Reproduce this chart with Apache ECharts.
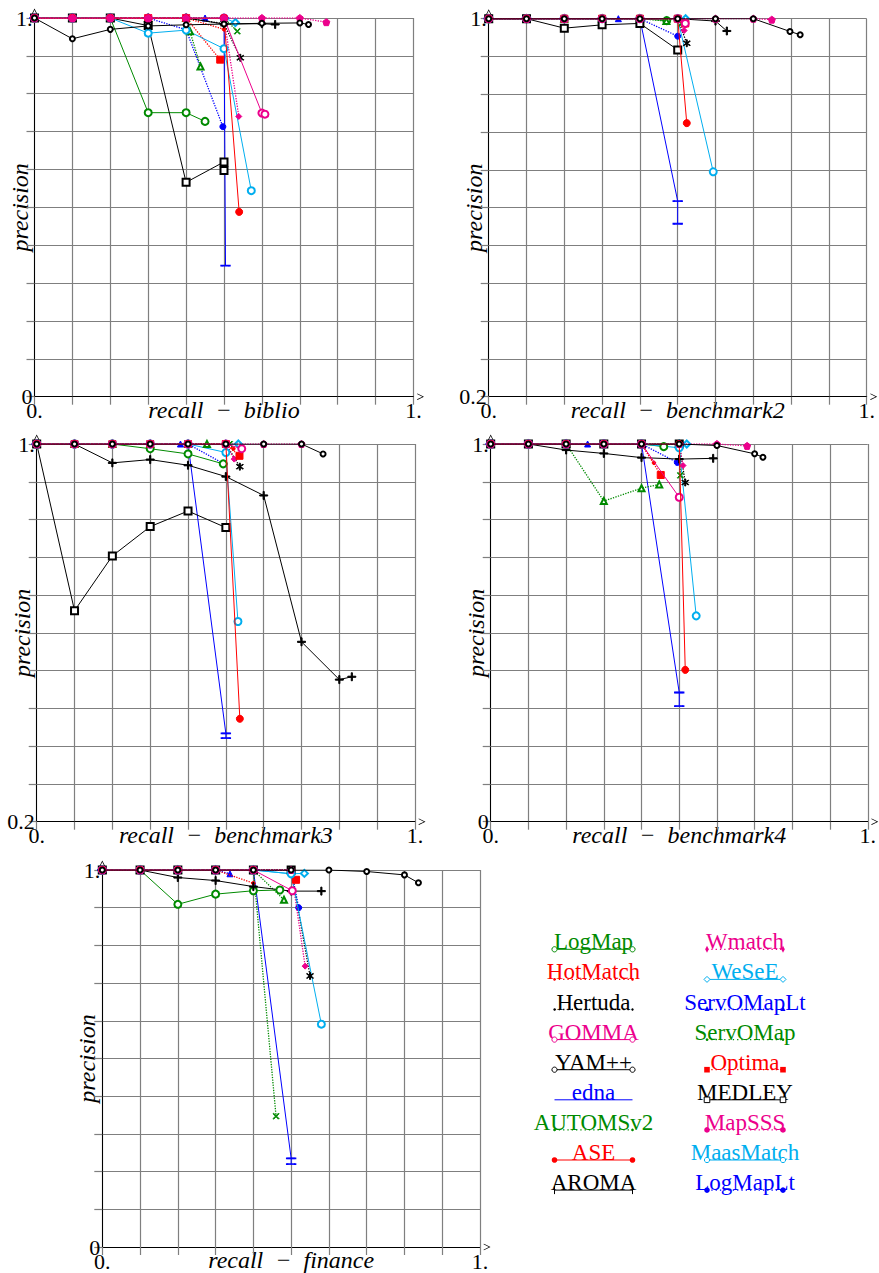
<!DOCTYPE html>
<html><head><meta charset="utf-8">
<script src="https://cdn.jsdelivr.net/npm/echarts@6/dist/echarts.min.js"></script>
<style>html,body{margin:0;padding:0;background:#fff}#c{width:879px;height:1273px}</style>
</head><body><div id="c"></div>
<script>
// ---------------- DATA ----------------
const systems = ['LogMap','HotMatch','Hertuda','GOMMA','YAM++','edna','AUTOMSv2','ASE','AROMA',
                 'Wmatch','WeSeE','ServOMapLt','ServOMap','Optima','MEDLEY','MapSSS','MaasMatch','LogMapLt'];
const panelNames = ['biblio','benchmark2','benchmark3','benchmark4','finance'];
const yMinValues = [0, 0.2, 0.2, 0, 0];
const xTickLabels = ['0.', '1.'];
const yTickLabels = [['0','1.'],['0.2','1.'],['0.2','1.'],['0','1.'],['0','1.']];

// [recall, precision] points, one list per system (same order as systems)
const biblioPoints = [
  [[0,1],[0.1,1],[0.2,1],[0.3,0.75],[0.4,0.75],[0.45,0.727]],                       // LogMap
  [[0,1],[0.1,1],[0.2,1],[0.3,1],[0.4,1],[0.5,0.97]],                                // HotMatch
  [[0,1],[0.1,1],[0.2,1],[0.3,1],[0.4,1],[0.5,0.985],[0.543,0.895]],                 // Hertuda
  [[0,1],[0.1,1],[0.2,1],[0.3,1],[0.4,1],[0.5,1],[0.6,0.749],[0.608,0.746]],         // GOMMA
  [[0,1],[0.1,0.945],[0.2,0.97],[0.3,0.979],[0.4,0.982],[0.5,0.984],[0.6,0.986],[0.7,0.987],[0.723,0.983]], // YAM++
  [[0,1],[0.1,1],[0.2,1],[0.3,1],[0.4,1],[0.5,1],[0.504,0.346]],                     // edna
  [[0,1],[0.1,1],[0.2,1],[0.3,1],[0.4,1],[0.41,0.965],[0.438,0.872]],                // AUTOMSv2
  [[0,1],[0.1,1],[0.2,1],[0.3,1],[0.4,1],[0.5,1],[0.54,0.488]],                      // ASE
  [[0,1],[0.1,1],[0.2,1],[0.3,1],[0.4,1],[0.5,0.984],[0.6,0.985],[0.635,0.983]],     // AROMA
  [[0,1],[0.1,1],[0.2,1],[0.3,1],[0.4,1],[0.5,1],[0.539,0.74]],                      // Wmatch
  [[0,1],[0.1,1],[0.2,1],[0.3,1],[0.4,1],[0.5,1],[0.53,0.988]],                      // WeSeE
  [[0,1],[0.1,1],[0.2,1],[0.3,1],[0.4,1],[0.45,1]],                                  // ServOMapLt
  [[0,1],[0.1,1],[0.2,1],[0.3,1],[0.4,1],[0.5,1],[0.535,0.965]],                     // ServOMap
  [[0,1],[0.1,1],[0.2,1],[0.3,1],[0.4,1],[0.49,0.89]],                               // Optima
  [[0,1],[0.1,1],[0.2,1],[0.3,0.98],[0.4,0.566],[0.5,0.62],[0.5,0.597]],             // MEDLEY
  [[0,1],[0.1,1],[0.2,1],[0.3,1],[0.4,1],[0.5,1],[0.6,1],[0.7,1],[0.77,0.989]],      // MapSSS
  [[0,1],[0.1,1],[0.2,1],[0.3,0.96],[0.4,0.968],[0.5,0.919],[0.572,0.544]],          // MaasMatch
  [[0,1],[0.1,1],[0.2,1],[0.3,1],[0.4,0.969],[0.497,0.713]]                          // LogMapLt
];
const benchmark2Points = [
  [[0,1],[0.1,1],[0.2,1],[0.3,1],[0.4,1],[0.471,0.996]],
  [[0,1],[0.1,1],[0.2,1],[0.3,1],[0.4,1],[0.5,1],[0.52,0.985]],
  [[0,1],[0.1,1],[0.2,1],[0.3,1],[0.4,1],[0.5,1],[0.524,0.948]],
  [[0,1],[0.1,1],[0.2,1],[0.3,1],[0.4,1],[0.5,1],[0.52,0.99]],
  [[0,1],[0.1,1],[0.2,1],[0.3,1],[0.4,1],[0.5,1],[0.6,1],[0.7,1],[0.797,0.973],[0.824,0.966]],
  [[0,1],[0.1,1],[0.2,1],[0.3,1],[0.4,1],[0.5,0.614],[0.5,0.566]],
  [[0,1],[0.1,1],[0.2,1],[0.3,1],[0.4,1],[0.47,0.995]],
  [[0,1],[0.1,1],[0.2,1],[0.3,1],[0.4,1],[0.5,1],[0.524,0.779]],
  [[0,1],[0.1,1],[0.2,1],[0.3,1],[0.4,1],[0.5,1],[0.6,0.995],[0.63,0.974]],
  [[0,1],[0.1,1],[0.2,1],[0.3,1],[0.4,1],[0.5,1],[0.517,0.975]],
  [[0,1],[0.1,1],[0.2,1],[0.3,1],[0.4,1],[0.5,1],[0.521,1]],
  [[0,1],[0.1,1],[0.2,1],[0.3,1],[0.343,1]],
  [[0,1],[0.1,1],[0.2,1],[0.3,1],[0.4,1],[0.5,1],[0.51,0.99]],
  [[0,1],[0.1,1],[0.2,1],[0.3,1],[0.4,1],[0.5,1],[0.52,0.99]],
  [[0,1],[0.1,1],[0.2,0.98],[0.3,0.987],[0.4,0.99],[0.5,0.934]],
  [[0,1],[0.1,1],[0.2,1],[0.3,1],[0.4,1],[0.5,1],[0.6,1],[0.7,1],[0.749,0.998]],
  [[0,1],[0.1,1],[0.2,1],[0.3,1],[0.4,1],[0.5,1],[0.594,0.676]],
  [[0,1],[0.1,1],[0.2,1],[0.3,1],[0.4,1],[0.5,0.963]]
];
const benchmark3Points = [
  [[0,1],[0.1,1],[0.2,1],[0.3,0.99],[0.4,0.979],[0.493,0.958]],
  [[0,1],[0.1,1],[0.2,1],[0.3,1],[0.4,1],[0.5,1],[0.52,0.99]],
  [[0,1],[0.1,1],[0.2,1],[0.3,1],[0.4,1],[0.5,1],[0.537,0.952]],
  [[0,1],[0.1,1],[0.2,1],[0.3,1],[0.4,1],[0.5,1],[0.542,0.99]],
  [[0,1],[0.1,1],[0.2,1],[0.3,1],[0.4,1],[0.5,1],[0.6,1],[0.7,1],[0.757,0.979]],
  [[0,1],[0.1,1],[0.2,1],[0.3,1],[0.4,1],[0.5,0.387],[0.5,0.377]],
  [[0,1],[0.1,1],[0.2,1],[0.3,1],[0.4,1],[0.45,1]],
  [[0,1],[0.1,1],[0.2,1],[0.3,1],[0.4,1],[0.5,1],[0.537,0.418]],
  [[0,1],[0.1,1],[0.2,0.96],[0.3,0.967],[0.4,0.955],[0.5,0.931],[0.6,0.891],[0.7,0.581],[0.8,0.501],[0.833,0.507]],
  [[0,1],[0.1,1],[0.2,1],[0.3,1],[0.4,1],[0.5,1],[0.522,0.968]],
  [[0,1],[0.1,1],[0.2,1],[0.3,1],[0.4,1],[0.5,1],[0.533,1]],
  [[0,1],[0.1,1],[0.2,1],[0.3,1],[0.38,1]],
  [[0,1],[0.1,1],[0.2,1],[0.3,1],[0.4,1],[0.5,1],[0.51,1]],
  [[0,1],[0.1,1],[0.2,1],[0.3,1],[0.4,1],[0.5,1],[0.536,0.975]],
  [[0,1],[0.1,0.647],[0.2,0.763],[0.3,0.825],[0.4,0.858],[0.5,0.823]],
  [[0,1],[0.1,1],[0.2,1],[0.3,1],[0.4,1],[0.5,1],[0.6,1],[0.7,1]],
  [[0,1],[0.1,1],[0.2,1],[0.3,1],[0.4,1],[0.5,0.982],[0.532,0.624]],
  [[0,1],[0.1,1],[0.2,1],[0.3,1],[0.4,1],[0.495,0.958]]
];
const benchmark4Points = [
  [[0,1],[0.1,1],[0.2,1],[0.3,1],[0.4,1],[0.459,0.993]],
  [[0,1],[0.1,1],[0.2,1],[0.3,1],[0.4,1],[0.433,0.95]],
  [[0,1],[0.1,1],[0.2,1],[0.3,1],[0.4,1],[0.5,1],[0.516,0.898]],
  [[0,1],[0.1,1],[0.2,1],[0.3,1],[0.4,1],[0.5,0.859]],
  [[0,1],[0.1,1],[0.2,1],[0.3,1],[0.4,1],[0.5,1],[0.6,0.996],[0.7,0.974],[0.722,0.965]],
  [[0,1],[0.1,1],[0.2,1],[0.3,1],[0.4,1],[0.5,0.342],[0.5,0.306]],
  [[0,1],[0.1,1],[0.2,1],[0.3,0.849],[0.4,0.883],[0.447,0.893]],
  [[0,1],[0.1,1],[0.2,1],[0.3,1],[0.4,1],[0.5,1],[0.516,0.402]],
  [[0,1],[0.1,1],[0.2,0.984],[0.3,0.975],[0.4,0.964],[0.5,0.96],[0.59,0.962]],
  [[0,1],[0.1,1],[0.2,1],[0.3,1],[0.4,1],[0.5,1],[0.51,0.943]],
  [[0,1],[0.1,1],[0.2,1],[0.3,1],[0.4,1],[0.5,1],[0.52,1]],
  [[0,1],[0.1,1],[0.2,1],[0.257,1]],
  [[0,1],[0.1,1],[0.2,1],[0.3,1],[0.4,1],[0.5,1],[0.503,0.917]],
  [[0,1],[0.1,1],[0.2,1],[0.3,1],[0.4,1],[0.451,0.918]],
  [[0,1],[0.1,1],[0.2,1],[0.3,1],[0.4,1],[0.5,1]],
  [[0,1],[0.1,1],[0.2,1],[0.3,1],[0.4,1],[0.5,1],[0.6,1],[0.68,0.995]],
  [[0,1],[0.1,1],[0.2,1],[0.3,1],[0.4,1],[0.5,0.99],[0.545,0.545]],
  [[0,1],[0.1,1],[0.2,1],[0.3,1],[0.4,1],[0.495,0.951]]
];
const financePoints = [
  [[0,1],[0.1,1],[0.2,0.909],[0.3,0.936],[0.4,0.945],[0.47,0.947]],
  [[0,1],[0.1,1],[0.2,1],[0.3,1],[0.4,0.965]],
  [[0,1],[0.1,1],[0.2,1],[0.3,1],[0.4,1],[0.5,1],[0.55,0.719]],
  [[0,1],[0.1,1],[0.2,1],[0.3,1],[0.4,1],[0.503,0.945]],
  [[0,1],[0.1,1],[0.2,1],[0.3,1],[0.4,1],[0.5,1],[0.6,1],[0.7,0.996],[0.8,0.987],[0.837,0.966]],
  [[0,1],[0.1,1],[0.2,1],[0.3,1],[0.4,1],[0.5,0.235],[0.5,0.22]],
  [[0,1],[0.1,1],[0.2,1],[0.3,1],[0.4,1],[0.481,0.921]],
  [[0,1],[0.1,1],[0.2,1],[0.3,1],[0.4,1]],
  [[0,1],[0.1,1],[0.2,0.98],[0.3,0.972],[0.4,0.956],[0.5,0.944],[0.58,0.944]],
  [[0,1],[0.1,1],[0.2,1],[0.3,1],[0.4,1],[0.5,1],[0.537,0.745]],
  [[0,1],[0.1,1],[0.2,1],[0.3,1],[0.4,1],[0.5,0.99],[0.535,0.991]],
  [[0,1],[0.1,1],[0.2,1],[0.3,1],[0.338,0.99]],
  [[0,1],[0.1,1],[0.2,1],[0.3,1],[0.4,1],[0.46,0.347]],
  [[0,1],[0.1,1],[0.2,1],[0.3,1],[0.4,1],[0.5,1],[0.513,0.974]],
  [[0,1],[0.1,1],[0.2,1],[0.3,1],[0.4,1],[0.5,1]],
  [[0,1],[0.1,1],[0.2,1],[0.3,1],[0.4,1],[0.5,1]],
  [[0,1],[0.1,1],[0.2,1],[0.3,1],[0.4,1],[0.5,0.99],[0.58,0.591]],
  [[0,1],[0.1,1],[0.2,1],[0.3,1],[0.4,1],[0.5,1],[0.52,0.9]]
];
const panelPoints = [biblioPoints, benchmark2Points, benchmark3Points, benchmark4Points, financePoints];

// ---------------- STYLE ----------------
const C = {green:'#008a00', red:'#ff0000', black:'#000000', mag:'#ec008c', blue:'#0000ff', cyan:'#00aeef'};
const PLUS = 'path://M4.3,0H5.7V10H4.3Z M0,4.3H10V5.7H0Z';
const CROSS = 'path://M1,0L5,4L9,0L10,1L6,5L10,9L9,10L5,6L1,10L0,9L4,5L0,1Z';
const STAR = 'path://M4.4,0H5.6V10H4.4Z M0.7,2.2L1.2,1.4L9.3,7.8L8.8,8.6Z M0.7,7.8L8.8,1.4L9.3,2.2L1.2,8.6Z';
const BAR = 'path://M0,0H10V1.4H0Z';
const PENT = 'path://M5,0L10,3.8L8.1,10L1.9,10L0,3.8Z';
const CHEV = 'path://M0,10L5,0L10,10L9,10.6L5,2.4L1,10.6Z';
const sty = [
  {c:C.green, d:false, s:'emptyCircle', z:7,  k:'ocircle', o:2},
  {c:C.red,   d:true,  s:'circle',      z:3.5,k:'dot', o:2},
  {c:C.black, d:true,  s:STAR,          z:7,  k:'star', o:2},
  {c:C.mag,   d:false, s:'emptyCircle', z:7,  k:'ocircle', o:2.05},
  {c:C.black, d:false, s:'emptyCircle', z:5,  k:'ocircle', o:2.4},
  {c:C.blue,  d:false, s:BAR,           z:[8,1.4], k:'none', o:2},
  {c:C.green, d:true,  s:'emptyTriangle', z:6, k:'dot', o:2},
  {c:C.red,   d:false, s:'circle',      z:7,  k:'fcircle', o:2.1},
  {c:C.black, d:false, s:PLUS,          z:8,  k:'plus', o:2},
  {c:C.mag,   d:true,  s:'diamond',     z:6,  k:'fdiamond', o:2},
  {c:C.cyan,  d:false, s:'emptyDiamond',z:7,  k:'odiamond', o:2},
  {c:C.blue,  d:true,  s:'triangle',    z:6,  k:'ftri', o:1.8},
  {c:C.green, d:true,  s:CROSS,         z:6,  k:'dot', o:2},
  {c:C.red,   d:true,  s:'rect',        z:7,  k:'frect', o:2},
  {c:C.black, d:false, s:'emptyRect',   z:7,  k:'orect', o:2},
  {c:C.mag,   d:true,  s:PENT,          z:7,  k:'fcircle', o:2.3},
  {c:C.cyan,  d:false, s:'emptyCircle', z:7,  k:'ocircle', o:2},
  {c:C.blue,  d:true,  s:'circle',      z:6,  k:'fcircle', o:1.8}
];
const GRAY = '#7f7f7f';
const FONT = 'Liberation Serif';
const gridBoxes = [
  {left:34.5, top:18,  width:379, height:378.7},
  {left:488.7,top:18.7,width:378, height:378},
  {left:36.7, top:444, width:378.3,height:377.7},
  {left:490.7,top:444, width:377.6,height:377.7},
  {left:102.3,top:870, width:377.7,height:377.7}
];

const near = (a,b)=>Math.abs(a-b)<1e-6;
const grid=[], xAxis=[], yAxis=[], series=[];
panelNames.forEach((pn,i)=>{
  grid.push(Object.assign({containLabel:false}, gridBoxes[i]));
  xAxis.push({
    gridIndex:i, type:'value', min:0, max:1, interval:0.1,
    name:'recall\u2002\u2212\u2002' + pn, nameLocation:'middle', nameGap:1, nameMoveOverlap:false,
    nameTextStyle:{fontFamily:FONT, fontStyle:'italic', fontSize:24, color:'#000', verticalAlign:'top'},
    axisLine:{show:true, onZero:false, lineStyle:{color:'#000', width:1}, symbol:['none', CHEV], symbolSize:[8,7], symbolOffset:[0,7]},
    axisTick:{show:true, length:8, lineStyle:{color:GRAY, width:1.2}},
    splitLine:{show:true, lineStyle:{color:GRAY, width:1.2}},
    axisLabel:{margin:3, fontFamily:FONT, fontSize:22, color:'#000', hideOverlap:false,
      alignMinLabel:'center', alignMaxLabel:'center',
      formatter:v=> near(v,0)?xTickLabels[0]:(near(v,1)?xTickLabels[1]:'')}
  });
  const ymin = yMinValues[i];
  // data axis
  yAxis.push({
    gridIndex:i, type:'value', position:'left', min:ymin, max:1, interval: ymin===0?0.5:0.2,
    name:'precision', nameLocation:'middle', nameGap:3, nameRotate:90, nameMoveOverlap:false,
    nameTextStyle:{fontFamily:FONT, fontStyle:'italic', fontSize:24, color:'#000'},
    axisLine:{show:true, onZero:false, lineStyle:{color:'#000', width:1}, symbol:['none', CHEV], symbolSize:[8,7], symbolOffset:[0,6]},
    axisTick:{show:false}, splitLine:{show:false},
    axisLabel:{margin:2, fontFamily:FONT, fontSize:22, color:'#000', hideOverlap:false,
      verticalAlignMinLabel:'middle', verticalAlignMaxLabel:'middle',
      formatter:v=> near(v,1)?yTickLabels[i][1]:(near(v,ymin)?yTickLabels[i][0]:'')}
  });
  // grid-line axis
  yAxis.push({
    gridIndex:i, type:'value', position:'left', min:0, max:1, interval:0.1,
    axisLine:{show:false}, axisLabel:{show:false},
    axisTick:{show:true, length:8, lineStyle:{color:GRAY, width:1.2}},
    splitLine:{show:true, lineStyle:{color:GRAY, width:1.2}}
  });
  panelPoints[i].forEach((pts,k)=>{
    const st = sty[k];
    series.push({
      type:'line', name:systems[k], xAxisIndex:i, yAxisIndex:2*i, data:pts, z:st.o,
      symbol:st.s, symbolSize:st.z, showSymbol:true, animation:false,
      lineStyle:{color:st.c, width: st.d?1.3:1, type: st.d?'dotted':'solid'},
      itemStyle:{color:st.c, borderColor:st.c, borderWidth:1},
      emphasis:{disabled:true}
    });
  });
});

// ---------------- LEGEND (graphic) ----------------
function marker(kind, x, y, c){
  switch(kind){
    case 'ocircle': return [{type:'circle', shape:{cx:x,cy:y,r:2.6}, style:{fill:'#fff', stroke:c, lineWidth:1}}];
    case 'fcircle': return [{type:'circle', shape:{cx:x,cy:y,r:2.8}, style:{fill:c}}];
    case 'dot': return [{type:'circle', shape:{cx:x,cy:y,r:1.3}, style:{fill:c}}];
    case 'frect': return [{type:'rect', shape:{x:x-2.8,y:y-2.8,width:5.6,height:5.6}, style:{fill:c}}];
    case 'orect': return [{type:'rect', shape:{x:x-2.8,y:y-2.8,width:5.6,height:5.6}, style:{fill:'#fff', stroke:c, lineWidth:1}}];
    case 'odiamond': return [{type:'polygon', shape:{points:[[x,y-3],[x+3,y],[x,y+3],[x-3,y]]}, style:{fill:'#fff', stroke:c, lineWidth:1}}];
    case 'fdiamond': return [{type:'polygon', shape:{points:[[x,y-3.5],[x+1.8,y],[x,y+3.5],[x-1.8,y]]}, style:{fill:c}}];
    case 'ftri': return [{type:'polygon', shape:{points:[[x,y-3.5],[x+2.5,y+1.5],[x-2.5,y+1.5]]}, style:{fill:c}}];
    case 'plus': return [{type:'line', shape:{x1:x,y1:y-4,x2:x,y2:y+4}, style:{stroke:c,lineWidth:1}}];
    case 'star': return [{type:'circle', shape:{cx:x,cy:y,r:1.2}, style:{fill:c}}];
    default: return [];
  }
}
const graphic = [];
systems.forEach((nm,k)=>{
  const col = k<9?0:1, row = k%9;
  const st = sty[k];
  const ly = 949.3 + row*30.1;
  const cx = col? 745 : 593.5;
  const x0 = col? 707 : 554.5, x1 = col? 783 : 632.5;
  graphic.push({type:'text', style:{text:nm, x:cx, y:ly+4, align:'center', verticalAlign:'bottom',
    fontFamily:FONT, fontSize:23, fill:st.c}});
  graphic.push({type:'line', shape:{x1:x0,y1:ly,x2:x1,y2:ly},
    style:{stroke:st.c, lineWidth: st.d?1.3:1, lineDash: st.d?[1.3,3]:null}});
  marker(st.k, x0, ly, st.c).forEach(g=>graphic.push(g));
  marker(st.k, x1, ly, st.c).forEach(g=>graphic.push(g));
});

const chart = echarts.init(document.getElementById('c'), null, {renderer:'svg'});
chart.setOption({animation:false, backgroundColor:'#fff', grid, xAxis, yAxis, series, graphic});
</script></body></html>
